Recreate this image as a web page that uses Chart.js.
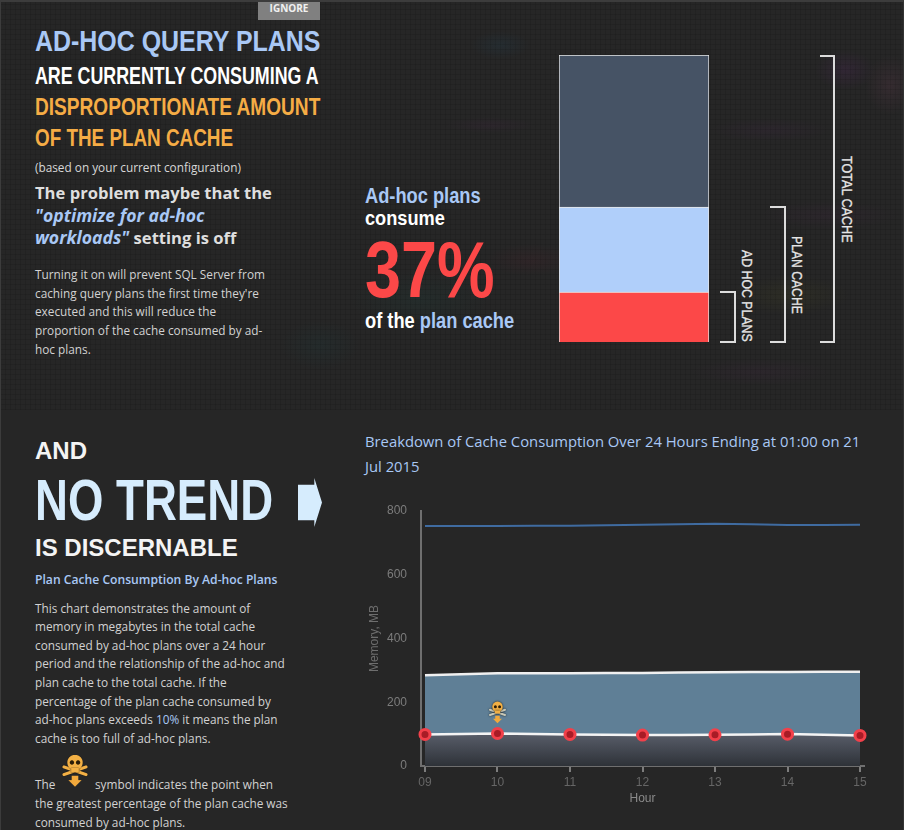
<!DOCTYPE html>
<html>
<head>
<meta charset="utf-8">
<title>Ad-hoc query plans</title>
<script src="https://cdn.jsdelivr.net/npm/chart.js@4"></script>
<style>
  html, body { margin: 0; padding: 0; background: #262626; }
  #page { position: relative; width: 904px; height: 830px; overflow: hidden; background: #262626; font-family: "Open Sans", sans-serif; }
  #page div, #page span.abs { white-space: nowrap; }
  .t { position: absolute; line-height: 1; }
  .narrow { font-family: "Liberation Sans", sans-serif; font-weight: bold; transform-origin: left top; }
  .arial { font-family: "Liberation Sans", sans-serif; font-weight: bold; }
  .blue { color: #a9c8f5; }
  .body { font-size: 11.8px; color: #d2d2d2; }
  .vert { writing-mode: vertical-rl; font-family: "Liberation Sans", sans-serif; font-size: 14px; color: #e6e6e6; transform-origin: left top; -webkit-text-stroke: .3px #e6e6e6; }
  .bracket { position: absolute; box-sizing: border-box; border: 2px solid #dcdcdc; border-left: 0; }
  #texture { position: absolute; left: 0; top: 0; width: 904px; height: 410px;
    background:
      radial-gradient(ellipse 45px 8px at 490px 125px, rgba(60,40,60,.30), transparent),
      radial-gradient(ellipse 30px 14px at 500px 45px, rgba(35,60,75,.30), transparent),
      radial-gradient(ellipse 30px 20px at 845px 70px, rgba(75,40,85,.30), transparent),
      radial-gradient(ellipse 25px 30px at 890px 85px, rgba(85,55,70,.32), transparent),
      radial-gradient(ellipse 60px 12px at 770px 130px, rgba(65,40,70,.22), transparent),
      radial-gradient(ellipse 70px 14px at 830px 215px, rgba(60,40,60,.28), transparent),
      radial-gradient(ellipse 60px 20px at 790px 295px, rgba(65,65,35,.28), transparent),
      radial-gradient(ellipse 45px 16px at 530px 260px, rgba(75,35,45,.24), transparent),
      radial-gradient(ellipse 70px 30px at 420px 300px, rgba(30,70,65,.20), transparent),
      radial-gradient(ellipse 40px 25px at 320px 345px, rgba(30,65,68,.20), transparent),
      radial-gradient(ellipse 70px 14px at 760px 372px, rgba(65,40,65,.22), transparent); }
  #grid { position: absolute; left: 0; top: 0; width: 904px; height: 410px;
    background-image:
      repeating-linear-gradient(90deg, rgba(0,0,0,.10) 0 1px, transparent 1px 5px),
      repeating-linear-gradient(0deg, rgba(0,0,0,.10) 0 1px, transparent 1px 5px); }
  #edge { position: absolute; left: 0; top: 0; right: 0; bottom: 0; box-sizing: border-box; border-top: 2px solid #3c3c3c; border-left: 1px solid #3c3c3c; border-right: 1px solid #333; pointer-events: none; }
  canvas { position: absolute; }
</style>
</head>
<body>
<div id="page">
  <div id="texture"></div>
  <div id="grid"></div>

  <div class="t" style="left:258px;top:2px;width:62px;height:18px;background:#808080;color:#f0f0f0;font-size:10px;font-weight:bold;text-align:center;line-height:13px;">IGNORE</div>

  <div class="t narrow" style="left:35px;top:27px;font-size:29px;color:#a9c8f5;transform:scaleX(.86);">AD-HOC QUERY PLANS</div>
  <div class="t narrow" style="left:35px;top:65px;font-size:23px;color:#fff;transform:scaleX(.775);">ARE CURRENTLY CONSUMING A</div>
  <div class="t narrow" style="left:35px;top:96px;font-size:23px;color:#f5ac45;transform:scaleX(.83);">DISPROPORTIONATE AMOUNT</div>
  <div class="t narrow" style="left:35px;top:127px;font-size:23px;color:#f5ac45;transform:scaleX(.82);">OF THE PLAN CACHE</div>
  <div class="t" style="left:35px;top:162px;font-size:11.8px;color:#d8d8d8;">(based on your current configuration)</div>
  <div class="t" style="left:35px;top:185px;font-size:16.6px;font-weight:bold;color:#dedede;">The problem maybe that the</div>
  <div class="t" style="left:35px;top:207px;font-size:17.6px;font-weight:bold;font-style:italic;color:#a9c8f5;">"optimize for ad-hoc</div>
  <div class="t" style="left:35px;top:229px;font-size:16.6px;font-weight:bold;color:#dedede;"><span style="font-size:17.6px;font-style:italic;color:#a9c8f5;">workloads"</span> setting is off</div>

  <div class="t body" style="left:35px;top:269px;">Turning it on will prevent SQL Server from</div>
  <div class="t body" style="left:35px;top:288px;">caching query plans the first time they're</div>
  <div class="t body" style="left:35px;top:306px;">executed and this will reduce the</div>
  <div class="t body" style="left:35px;top:325px;">proportion of the cache consumed by ad-</div>
  <div class="t body" style="left:35px;top:344px;">hoc plans.</div>

  <div class="t narrow" style="left:365px;top:185px;font-size:22px;color:#a9c8f5;transform:scaleX(.83);">Ad-hoc plans</div>
  <div class="t narrow" style="left:365px;top:208px;font-size:20px;color:#fff;transform:scaleX(.91);">consume</div>
  <div class="t narrow" style="left:365px;top:230px;font-size:80px;color:#fc4848;transform:scaleX(.81);">37%</div>
  <div class="t narrow" style="left:365px;top:310px;font-size:22px;color:#fff;transform:scaleX(.83);">of the <span class="blue">plan cache</span></div>

  <canvas id="cacheBar" style="left:553px;top:49px;width:162px;height:299px;"></canvas>

  <div class="bracket" style="left:720px;top:291px;width:16px;height:52px;"></div>
  <div class="bracket" style="left:770px;top:206px;width:16px;height:137px;"></div>
  <div class="bracket" style="left:820px;top:55px;width:15px;height:288px;"></div>
  <div class="t vert" style="left:740px;top:250px;transform:scaleY(.88);">AD HOC PLANS</div>
  <div class="t vert" style="left:790px;top:236px;transform:scaleY(.87);">PLAN CACHE</div>
  <div class="t vert" style="left:840px;top:156px;transform:scaleY(.9);">TOTAL CACHE</div>

  <div class="t arial" style="left:35px;top:439px;font-size:24px;color:#f4f4f4;">AND</div>
  <div class="t narrow" style="left:35px;top:472px;font-size:57px;color:#d6ecfd;transform:scaleX(.8);">NO TREND</div>
  <div style="position:absolute;left:298px;top:478px;width:24px;height:49px;background:#d6ecfd;clip-path:polygon(0 14%,68% 14%,68% 0,100% 50%,68% 100%,68% 86%,0 86%);"></div>
  <div class="t arial" style="left:35px;top:536px;font-size:24px;color:#f4f4f4;">IS DISCERNABLE</div>
  <div class="t blue" style="left:35px;top:574px;font-size:12.15px;font-weight:600;">Plan Cache Consumption By Ad-hoc Plans</div>

  <div class="t body" style="left:35px;top:603px;">This chart demonstrates the amount of</div>
  <div class="t body" style="left:35px;top:621px;">memory in megabytes in the total cache</div>
  <div class="t body" style="left:35px;top:640px;">consumed by ad-hoc plans over a 24 hour</div>
  <div class="t body" style="left:35px;top:658px;">period and the relationship of the ad-hoc and</div>
  <div class="t body" style="left:35px;top:677px;">plan cache to the total cache. If the</div>
  <div class="t body" style="left:35px;top:696px;">percentage of the plan cache consumed by</div>
  <div class="t body" style="left:35px;top:714px;">ad-hoc plans exceeds <span class="blue">10%</span> it means the plan</div>
  <div class="t body" style="left:35px;top:733px;">cache is too full of ad-hoc plans.</div>
  <div class="t body" style="left:35px;top:779px;">The</div>
  <canvas id="skullKey" style="left:60px;top:755px;width:30px;height:36px;"></canvas>
  <div class="t body" style="left:95px;top:779px;">symbol indicates the point when</div>
  <div class="t body" style="left:35px;top:798px;">the greatest percentage of the plan cache was</div>
  <div class="t body" style="left:35px;top:817px;">consumed by ad-hoc plans.</div>

  <div class="t blue" style="left:365px;top:434px;font-size:14.8px;">Breakdown of Cache Consumption Over 24 Hours Ending at 01:00 on 21</div>
  <div class="t blue" style="left:365px;top:459px;font-size:14.8px;">Jul 2015</div>

  <canvas id="trend" style="left:360px;top:495px;width:520px;height:311px;"></canvas>
  <div id="edge"></div>
</div>

<script>
// datos de la barra superior (porcentajes)
const barLabels = ['cache'];
const adHocShare = [37];
const planRestShare = [63];
const otherCacheShare = [112.6];

// datos del grafico de 24 horas
const hours = [9, 10, 11, 12, 13, 14, 15];
const yTicks = [0, 200, 400, 600, 800];
const totalCache = [753, 753, 754, 757, 760, 756, 757];
const planCache = [285, 291, 291, 292, 294, 295, 296];
const adHocPlans = [99, 102, 99, 97, 98, 100, 96];
const peakIndex = 1;

// calavera con flecha, se usa en el grafico y en el texto
function drawSkull(ctx, cx, cy, s, boneColor) {
  ctx.save();
  ctx.translate(cx, cy);
  ctx.scale(s, s);
  ctx.shadowColor = 'rgba(0,0,0,.8)';
  ctx.shadowBlur = 2;
  ctx.lineCap = 'round';
  ctx.strokeStyle = boneColor;
  ctx.lineWidth = 2.8;
  ctx.beginPath();
  ctx.moveTo(-10, -1); ctx.lineTo(10, 6);
  ctx.moveTo(10, -1); ctx.lineTo(-10, 6);
  ctx.stroke();
  ctx.fillStyle = '#f2b045';
  ctx.beginPath();
  ctx.arc(0, -5, 7, 0, Math.PI * 2);
  ctx.fill();
  ctx.fillRect(-3.5, 0, 7, 4);
  ctx.shadowBlur = 0;
  ctx.fillStyle = '#2a1c08';
  ctx.beginPath();
  ctx.arc(-2.8, -5, 2, 0, Math.PI * 2);
  ctx.arc(2.8, -5, 2, 0, Math.PI * 2);
  ctx.fill();
  ctx.fillStyle = '#f2a93c';
  ctx.beginPath();
  ctx.moveTo(-3, 7); ctx.lineTo(3, 7); ctx.lineTo(3, 11); ctx.lineTo(6, 11);
  ctx.lineTo(0, 17); ctx.lineTo(-6, 11); ctx.lineTo(-3, 11);
  ctx.closePath();
  ctx.fill();
  ctx.restore();
}

const keyCanvas = document.getElementById('skullKey');
keyCanvas.width = 60; keyCanvas.height = 72;
const keyCtx = keyCanvas.getContext('2d');
keyCtx.scale(2, 2);
drawSkull(keyCtx, 15, 13, 1.1, '#f2b045');

// barra apilada
new Chart(document.getElementById('cacheBar'), {
  type: 'bar',
  data: {
    labels: barLabels,
    datasets: [
      { data: adHocShare, backgroundColor: '#fc4848' },
      { data: planRestShare, backgroundColor: '#b0cffa' },
      { data: otherCacheShare, backgroundColor: '#465365' }
    ].map(d => Object.assign(d, { borderColor: '#e8e8e8', borderWidth: 1, barPercentage: 1, categoryPercentage: 1 }))
  },
  options: {
    responsive: false,
    animation: false,
    layout: { padding: { left: 6, right: 6, top: 6, bottom: 6 } },
    plugins: { legend: { display: false }, tooltip: { enabled: false } },
    scales: {
      x: { stacked: true, display: false },
      y: { stacked: true, display: false, min: 0, max: 212.6 }
    }
  }
});

// marca del punto con mayor porcentaje
const skullMark = {
  id: 'skullMark',
  afterDatasetsDraw(chart) {
    const x = chart.scales.x.getPixelForValue(hours[peakIndex]);
    const y = chart.scales.y.getPixelForValue(adHocPlans[peakIndex]);
    drawSkull(chart.ctx, x, y - 23, 0.75, '#c9c9b8');
  }
};

const trendCtx = document.getElementById('trend').getContext('2d');
const toPoints = values => values.map((v, i) => ({ x: hours[i], y: v }));

const lowerFill = trendCtx.createLinearGradient(0, 239, 0, 271);
lowerFill.addColorStop(0, '#585d69');
lowerFill.addColorStop(1, '#2e3238');

new Chart(trendCtx, {
  type: 'line',
  data: {
    datasets: [
      { label: 'Total cache', order: 2, data: toPoints(totalCache), borderColor: '#3f6ba0', borderWidth: 2, pointRadius: 0, fill: false },
      { label: 'Plan cache', order: 1, data: toPoints(planCache), borderColor: '#f0f0f0', borderWidth: 2.5, pointRadius: 0, fill: '+1', backgroundColor: '#5f7f96' },
      // order 0 para que los puntos queden encima del relleno
      { label: 'Ad hoc plans', order: 0, data: toPoints(adHocPlans), borderColor: '#f4f4f4', borderWidth: 2.5, fill: 'origin', backgroundColor: lowerFill, clip: false,
        pointRadius: 5, pointBorderWidth: 3, pointBackgroundColor: '#a81c26', pointBorderColor: '#f2404a' }
    ]
  },
  plugins: [skullMark],
  options: {
    responsive: false,
    animation: false,
    layout: { padding: { top: 16, right: 16, left: 0, bottom: 0 } },
    elements: { line: { tension: 0.2 } },
    plugins: { legend: { display: false }, tooltip: { enabled: false } },
    scales: {
      x: {
        type: 'linear',
        min: 8.945,
        max: 15.055,
        afterFit(s) { s.height = 40; },
        afterBuildTicks(s) { s.ticks = hours.map(h => ({ value: h })); },
        ticks: {
          autoSkip: false, maxRotation: 0, padding: 3,
          color: '#666666',
          font: { family: 'Liberation Sans', size: 12 },
          callback: v => String(v).padStart(2, '0')
        },
        grid: { drawOnChartArea: false, color: '#7d7d7d', tickLength: 6, lineWidth: 2 },
        border: { color: '#6f6f6f', width: 2 },
        title: { display: true, text: 'Hour', color: '#8a8a8a', font: { family: 'Liberation Sans', size: 12 }, padding: { top: 3, bottom: 0 } }
      },
      y: {
        min: 0,
        max: 800,
        afterFit(s) { s.width = 61; },
        afterBuildTicks(s) { s.ticks = yTicks.map(v => ({ value: v })); },
        ticks: { padding: 6, color: '#7c7c7c', font: { family: 'Liberation Sans', size: 12 } },
        grid: { display: false },
        border: { color: '#6f6f6f', width: 2 },
        title: { display: true, text: 'Memory, MB', color: '#6e6e6e', font: { family: 'Liberation Sans', size: 12 }, padding: { top: 7, bottom: 0 } }
      }
    }
  }
});
</script>
</body>
</html>
